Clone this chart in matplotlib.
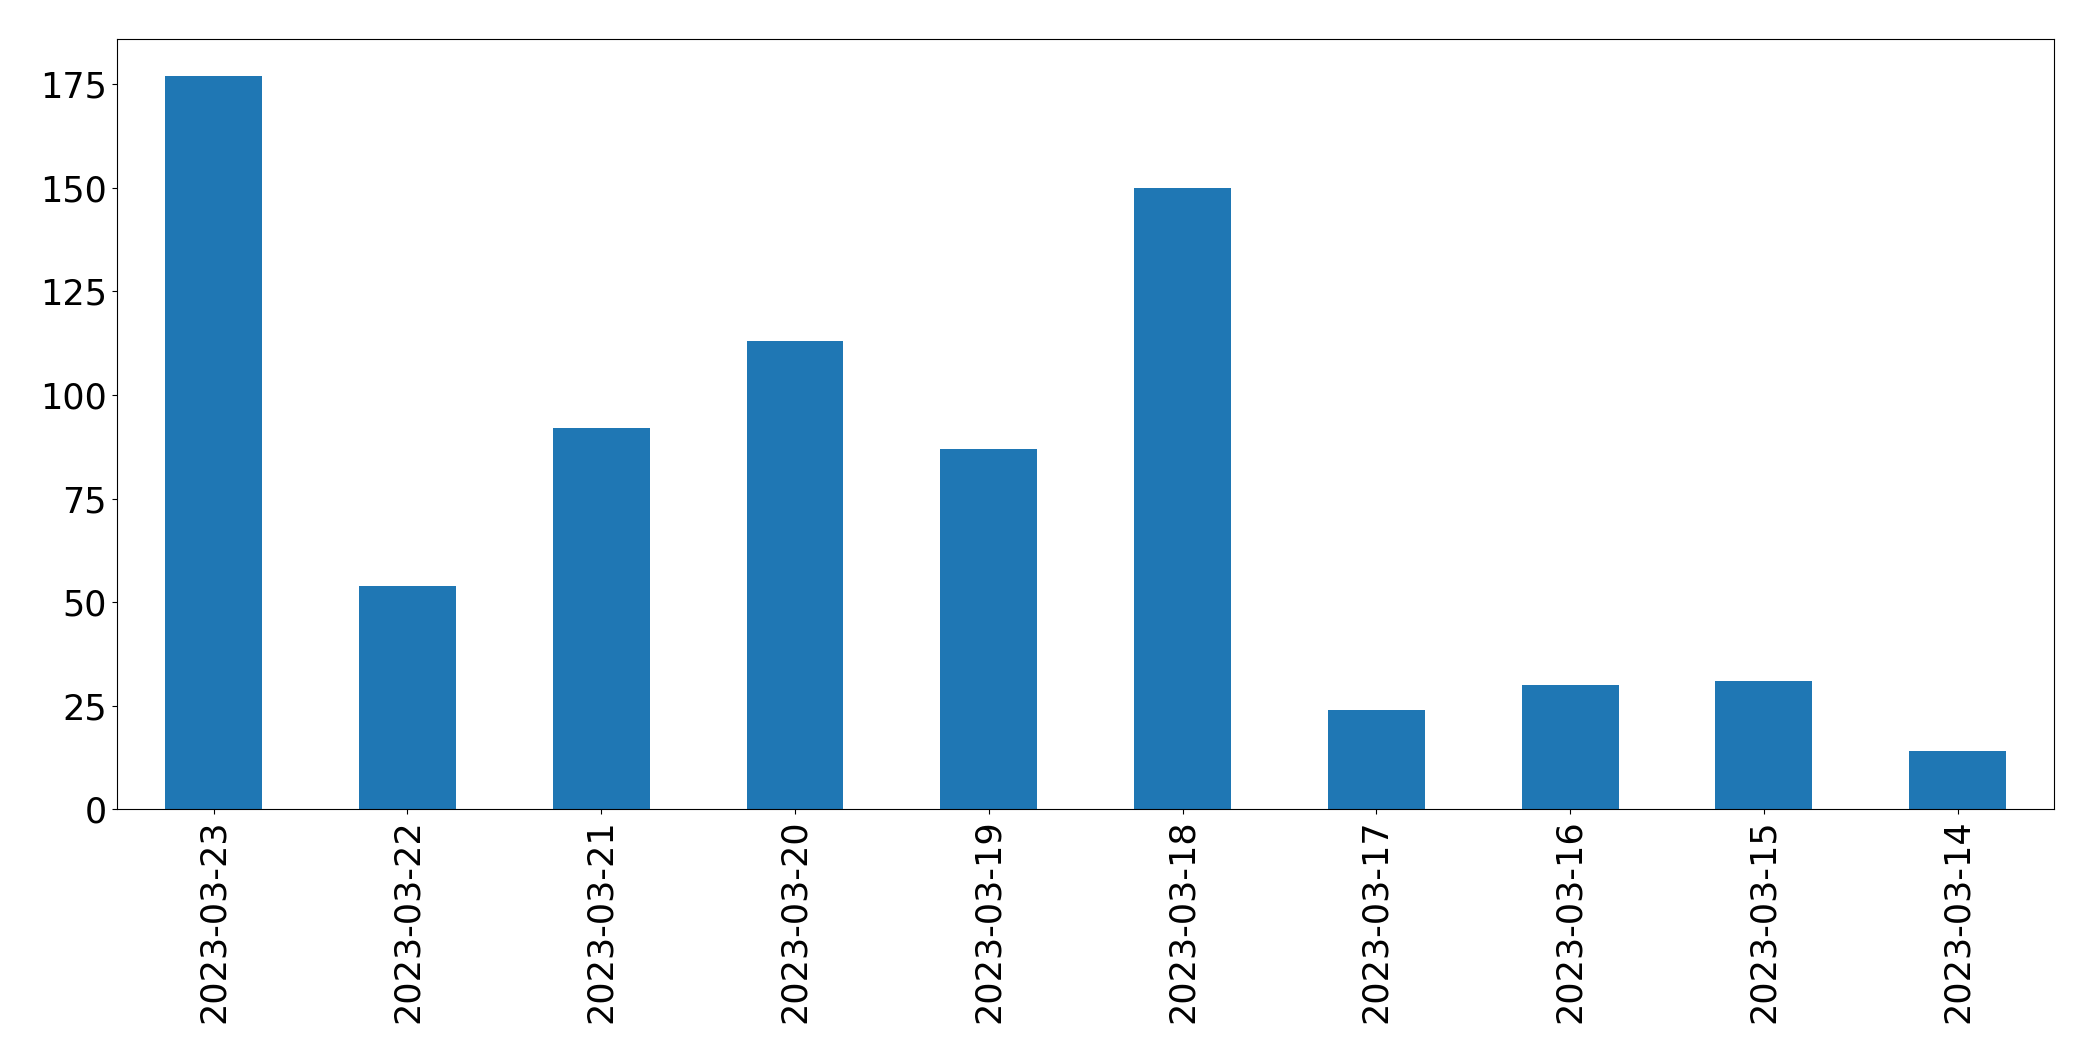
import matplotlib
matplotlib.use("Agg")
import matplotlib.pyplot as plt

dates = ["2023-03-23", "2023-03-22", "2023-03-21", "2023-03-20", "2023-03-19",
         "2023-03-18", "2023-03-17", "2023-03-16", "2023-03-15", "2023-03-14"]
counts = [177, 54, 92, 113, 87, 150, 24, 30, 31, 14]

fig = plt.figure(figsize=(20.93, 10.61), dpi=100)
ax = fig.add_axes([0.0558, 0.2372, 0.9816 - 0.0558, 0.963 - 0.2372])
x = range(len(dates))
ax.bar(x, counts, width=0.5, color="#1f77b4")
ax.set_xlim(-0.5, len(dates) - 0.5)
ax.set_xticks(list(x))
ax.set_xticklabels(dates, rotation=90, fontsize=25.2)
ax.set_yticks([0, 25, 50, 75, 100, 125, 150, 175])
ax.tick_params(axis="y", labelsize=25.2)
fig.savefig("out.png", dpi=100)
